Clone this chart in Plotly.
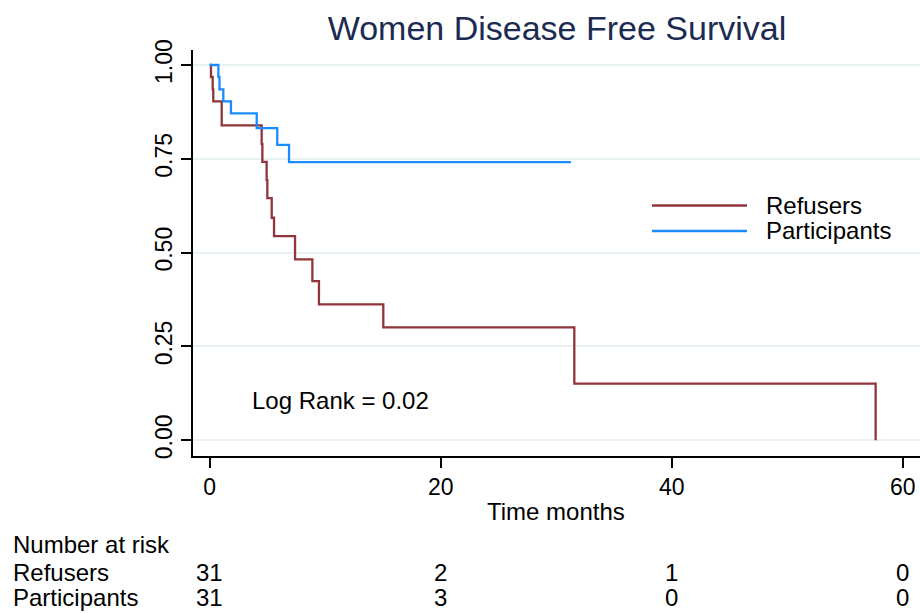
import plotly.graph_objects as go

# ---- data ----
series_names = ["Refusers", "Participants"]
refusers_time = [0, 0.11, 0.26, 0.31, 1.04, 4.50, 4.56, 4.93, 4.99, 5.37, 5.57, 7.39, 8.89, 9.46, 15.03, 31.57, 57.66]
refusers_surv = [1.0, 0.968, 0.935, 0.903, 0.839, 0.790, 0.742, 0.693, 0.645, 0.593, 0.544, 0.482, 0.424, 0.362, 0.301, 0.151, 0.0]
participants_time = [0, 0.75, 0.85, 1.18, 1.84, 4.07, 5.85, 6.87, 31.28]
participants_surv = [1.0, 0.968, 0.935, 0.903, 0.871, 0.832, 0.787, 0.741, 0.741]

x_ticks = [0, 20, 40, 60]
y_ticks = [0, 0.25, 0.5, 0.75, 1.0]
y_ticklabels = ["0.00", "0.25", "0.50", "0.75", "1.00"]

risk_times = [0, 20, 40, 60]
risk_refusers = [31, 2, 1, 0]
risk_participants = [31, 3, 0, 0]

title_text = "Women Disease Free Survival"
xaxis_title = "Time months"
logrank_text = "Log Rank = 0.02"
risk_header = "Number at risk"

# ---- styling ----
FONT = "Liberation Sans, Arial, sans-serif"
RED = "#90353b"
BLUE = "#1a8cff"
W, H = 920, 613
# plot area in window pixels: x 193..920, y 50..456
ML, MR, MT, MB = 193, 0, 50, H - 456
PH = H - MT - MB
PW = W - ML - MR


def py(pix):
    """window pixel y -> paper coordinate"""
    return (H - MB - pix) / PH


def px(pix):
    """window pixel x -> paper coordinate"""
    return (pix - ML) / PW


fig = go.Figure()
fig.add_trace(go.Scatter(x=refusers_time, y=refusers_surv, mode="lines", line_shape="hv",
                         line=dict(color=RED, width=2.3), name=series_names[0], showlegend=False))
fig.add_trace(go.Scatter(x=participants_time, y=participants_surv, mode="lines", line_shape="hv",
                         line=dict(color=BLUE, width=2.3), name=series_names[1], showlegend=False))

fig.update_layout(
    width=W, height=H,
    margin=dict(l=ML, r=MR, t=MT, b=MB, pad=0),
    paper_bgcolor="white", plot_bgcolor="white",
    font=dict(family=FONT, size=23, color="black"),
    title=dict(text=title_text, font=dict(size=34, color="#1c2b52", family=FONT),
               x=px(557), xref="paper", xanchor="center",
               y=1 - 28 / H, yref="container", yanchor="middle"),
    xaxis=dict(range=[-1.446, 61.5], tickvals=x_ticks, showgrid=False, zeroline=False,
               showline=True, linecolor="black", linewidth=1.5,
               ticks="outside", ticklen=10, tickwidth=1.5, tickcolor="black",
               tickfont=dict(size=23)),
    yaxis=dict(range=[-0.042, 1.04], tickvals=y_ticks, ticktext=y_ticklabels, tickangle=-90,
               showgrid=True, gridcolor="#e9f1f3", gridwidth=1.5, zeroline=False,
               showline=True, linecolor="black", linewidth=1.5,
               ticks="outside", ticklen=10, tickwidth=1.5, tickcolor="black",
               tickfont=dict(size=23)),
    showlegend=False,
)

annotations = []
# x-axis title
annotations.append(dict(text=xaxis_title, x=px(556), y=py(511), xref="paper", yref="paper",
                        xanchor="center", yanchor="middle", showarrow=False, font=dict(size=24)))
# log rank
annotations.append(dict(text=logrank_text, x=3.5, y=0.107, xref="x", yref="y",
                        xanchor="left", yanchor="middle", showarrow=False, font=dict(size=24)))

# manual legend (long line samples as in reference)
legend_y = [205.5, 231]
legend_colors = [RED, BLUE]
shapes = []
for name, ly, col in zip(series_names, legend_y, legend_colors):
    shapes.append(dict(type="line", xref="paper", yref="paper", x0=px(652), x1=px(747),
                       y0=py(ly), y1=py(ly), line=dict(color=col, width=2.3)))
    annotations.append(dict(text=name, x=px(764), y=py(ly), xref="paper", yref="paper",
                            xanchor="left", yanchor="middle", showarrow=False, font=dict(size=24)))

# number at risk table
annotations.append(dict(text=risk_header, x=px(11), y=py(544), xref="paper", yref="paper",
                        xanchor="left", yanchor="middle", showarrow=False, font=dict(size=24)))
row_y = [572, 597]
for name, ry, vals in zip(series_names, row_y, [risk_refusers, risk_participants]):
    annotations.append(dict(text=name, x=px(11), y=py(ry), xref="paper", yref="paper",
                            xanchor="left", yanchor="middle", showarrow=False, font=dict(size=24)))
    for t, v in zip(risk_times, vals):
        annotations.append(dict(text=str(v), x=t, y=py(ry), xref="x", yref="paper",
                                xanchor="center", yanchor="middle", showarrow=False, font=dict(size=24)))

fig.update_layout(annotations=annotations, shapes=shapes)
fig.write_html("out.html", config={"displayModeBar": False},
               post_script="document.body.style.margin='0';document.body.style.overflow='hidden';")
